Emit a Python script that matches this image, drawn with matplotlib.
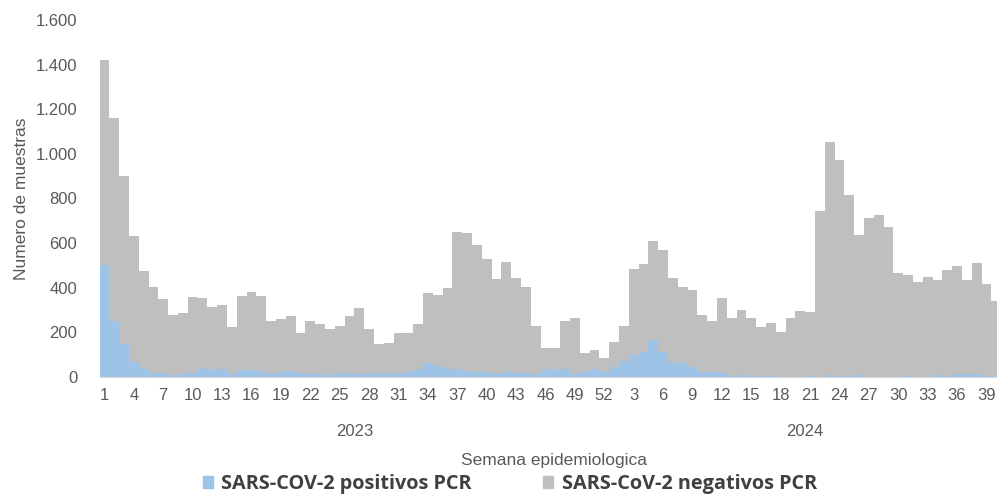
import matplotlib.pyplot as plt
from matplotlib.patches import Patch

# semanas epidemiologicas
semanas_2023 = list(range(1, 53))
semanas_2024 = list(range(1, 41))

# total de muestras por semana (altura de la barra)
total_2023 = [1420, 1160, 900, 632, 475, 405, 350, 278, 287, 360, 355, 313, 323,
              222, 365, 380, 361, 250, 259, 274, 195, 253, 238, 215, 227, 272,
              310, 214, 150, 153, 196, 198, 238, 375, 366, 400, 648, 645, 593,
              531, 440, 516, 442, 405, 228, 132, 129, 252, 263, 107, 121, 86]
total_2024 = [158, 228, 486, 506, 608, 570, 445, 405, 392, 280, 252, 352, 263,
              302, 265, 222, 240, 202, 265, 296, 292, 742, 1055, 972, 814, 638,
              713, 724, 671, 468, 459, 424, 448, 435, 478, 498, 435, 512, 415, 340]

positivos_2023 = [502, 250, 146, 69, 34, 18, 18, 10, 15, 18, 34, 30, 34, 15, 30,
                  33, 27, 12, 21, 25, 18, 13, 12, 10, 13, 18, 15, 15, 18, 18, 15,
                  24, 36, 61, 51, 34, 34, 25, 21, 24, 12, 24, 18, 18, 15, 36, 30,
                  34, 13, 21, 37, 21]
positivos_2024 = [45, 73, 97, 113, 164, 111, 66, 61, 46, 21, 21, 19, 4, 7, 4, 4,
                  3, 1, 1, 1, 4, 1, 10, 4, 3, 7, 1, 1, 1, 1, 4, 1, 1, 7, 3, 15,
                  12, 13, 4, 3]

semanas = semanas_2023 + semanas_2024
positivos = positivos_2023 + positivos_2024
negativos = [t - p for t, p in zip(total_2023 + total_2024, positivos)]
x = list(range(len(semanas)))

azul = '#9dc3e6'
gris = '#bfbfbf'
texto = '#595959'
plt.rcParams['font.family'] = ['Liberation Sans', 'DejaVu Sans']

fig = plt.figure(figsize=(9.97, 4.95), dpi=100)
# el eje se sale un poco por la derecha, como en el original
ax = fig.add_axes([99.5 / 997, 118 / 495, 901.6 / 997, 357 / 495])

ax.bar(x, positivos, width=1.0, color=azul, linewidth=0)
ax.bar(x, negativos, width=1.0, bottom=positivos, color=gris, linewidth=0)

ax.set_xlim(-0.5, len(x) - 0.5)
ax.set_ylim(0, 1600)
ax.set_yticks(range(0, 1601, 200))
ax.set_yticklabels([f'{v:,}'.replace(',', '.') for v in range(0, 1601, 200)])
ax.set_xticks(x[::3])
ax.set_xticklabels([str(s) for s in semanas[::3]])
ax.tick_params(length=0, labelsize=12, labelcolor=texto, pad=8)
ax.tick_params(axis='y', pad=16)

for s in ['top', 'right', 'left']:
    ax.spines[s].set_visible(False)
ax.spines['bottom'].set_color('#d9d9d9')

ax.set_ylabel('Numero de muestras', fontsize=12.5, color=texto, labelpad=5)

trans = ax.get_xaxis_transform()
n23 = len(semanas_2023)
ax.text((n23 - 1) / 2, -0.154, '2023', transform=trans, ha='center', va='center',
        fontsize=12, color=texto)
ax.text(n23 + (len(semanas_2024) - 1) / 2, -0.154, '2024', transform=trans,
        ha='center', va='center', fontsize=12, color=texto)
fig.text(554 / 997, 1 - 461 / 495, 'Semana epidemiologica', ha='center', va='center',
         fontsize=12.5, color=texto)

handles = [Patch(color=azul, label='SARS-COV-2 positivos PCR'),
           Patch(color=gris, label='SARS-CoV-2 negativos PCR')]
leg = fig.legend(handles=handles, loc='center', bbox_to_anchor=(510 / 997, 1 - 484 / 495),
                 ncol=2, frameon=False, handlelength=0.5, handleheight=0.55,
                 handletextpad=0.45, columnspacing=3.6, borderpad=0,
                 prop={'family': ['Open Sans', 'DejaVu Sans'], 'weight': 'bold', 'size': 14.3})
for t in leg.get_texts():
    t.set_color('#404040')

fig.savefig('out.png', dpi=100)
